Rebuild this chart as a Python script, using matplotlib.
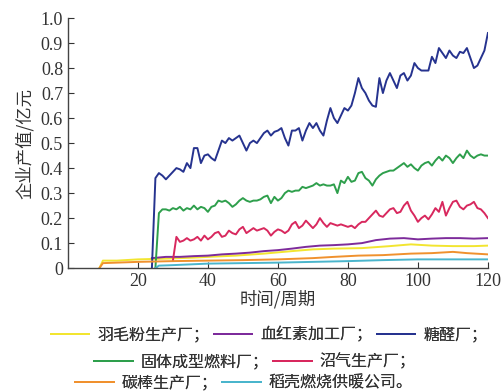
import matplotlib
matplotlib.use("Agg")
import matplotlib.pyplot as plt

plt.rcParams["font.family"] = ["Liberation Serif", "Noto Sans CJK SC", "DejaVu Sans"]

# MARK: Data (period, output value in 100M yuan)

yellow_t = [9, 10, 14, 20, 28, 36, 40, 48, 56, 64, 70, 76, 84, 92, 98, 104, 110, 116, 120]
yellow_v = [0.0, 0.03, 0.03, 0.035, 0.038, 0.042, 0.045, 0.05, 0.058, 0.068, 0.075,
            0.078, 0.08, 0.088, 0.095, 0.09, 0.088, 0.088, 0.09]

purple_t = [24, 28, 32, 36, 40, 44, 48, 52, 56, 60, 64, 68, 72, 76, 80, 84, 88, 92,
            96, 100, 104, 108, 112, 116, 120]
purple_v = [0.04, 0.045, 0.045, 0.048, 0.05, 0.055, 0.058, 0.062, 0.068, 0.072, 0.078,
            0.085, 0.09, 0.092, 0.095, 0.10, 0.112, 0.118, 0.12, 0.115, 0.118, 0.12,
            0.12, 0.118, 0.12]

blue_t = list(range(24, 121))
blue_v = [0.0, 0.36, 0.38, 0.37, 0.355, 0.37, 0.385, 0.40, 0.395, 0.385, 0.42, 0.40,
          0.48, 0.48, 0.42, 0.45, 0.455, 0.44, 0.43, 0.47, 0.51, 0.50, 0.52, 0.51,
          0.52, 0.53, 0.50, 0.47, 0.50, 0.51, 0.50, 0.52, 0.54, 0.55, 0.53, 0.545,
          0.55, 0.56, 0.52, 0.49, 0.55, 0.55, 0.56, 0.51, 0.55, 0.58, 0.56, 0.58,
          0.55, 0.53, 0.59, 0.64, 0.60, 0.58, 0.61, 0.64, 0.63, 0.65, 0.70, 0.76,
          0.72, 0.70, 0.67, 0.65, 0.645, 0.76, 0.70, 0.75, 0.78, 0.75, 0.72, 0.77,
          0.78, 0.75, 0.77, 0.82, 0.80, 0.79, 0.79, 0.79, 0.845, 0.82, 0.88, 0.86,
          0.84, 0.87, 0.85, 0.84, 0.865, 0.86, 0.88, 0.84, 0.80, 0.81, 0.84, 0.87,
          0.94]

green_t = list(range(25, 121))
green_v = [0.0, 0.22, 0.235, 0.235, 0.23, 0.24, 0.235, 0.245, 0.23, 0.24, 0.235, 0.25,
           0.235, 0.245, 0.24, 0.225, 0.245, 0.25, 0.27, 0.265, 0.27, 0.26, 0.245,
           0.255, 0.27, 0.28, 0.27, 0.265, 0.27, 0.27, 0.275, 0.285, 0.29, 0.26,
           0.285, 0.27, 0.28, 0.30, 0.31, 0.305, 0.31, 0.31, 0.325, 0.32, 0.325, 0.33,
           0.34, 0.33, 0.335, 0.33, 0.33, 0.335, 0.30, 0.35, 0.34, 0.365, 0.345,
           0.35, 0.38, 0.385, 0.36, 0.35, 0.33, 0.355, 0.37, 0.38, 0.385, 0.39, 0.39,
           0.40, 0.41, 0.42, 0.405, 0.415, 0.40, 0.39, 0.41, 0.42, 0.425, 0.41, 0.43,
           0.445, 0.43, 0.45, 0.44, 0.42, 0.44, 0.455, 0.44, 0.47, 0.45, 0.44, 0.45,
           0.455, 0.45, 0.45]

red_t = list(range(30, 121))
red_v = [0.03, 0.125, 0.105, 0.11, 0.12, 0.11, 0.115, 0.125, 0.11, 0.13, 0.115, 0.125,
         0.14, 0.145, 0.125, 0.13, 0.15, 0.14, 0.135, 0.155, 0.165, 0.14, 0.15, 0.16,
         0.15, 0.155, 0.16, 0.15, 0.13, 0.145, 0.155, 0.15, 0.14, 0.15, 0.175, 0.185,
         0.16, 0.17, 0.19, 0.175, 0.16, 0.175, 0.20, 0.18, 0.165, 0.18, 0.175, 0.17,
         0.175, 0.17, 0.165, 0.17, 0.16, 0.175, 0.185, 0.185, 0.20, 0.215, 0.23,
         0.21, 0.205, 0.22, 0.235, 0.24, 0.22, 0.225, 0.25, 0.265, 0.23, 0.21, 0.185,
         0.20, 0.21, 0.195, 0.215, 0.24, 0.225, 0.265, 0.21, 0.24, 0.265, 0.27,
         0.245, 0.235, 0.25, 0.255, 0.265, 0.24, 0.235, 0.22, 0.20]

orange_t = [9, 10, 20, 30, 40, 50, 60, 70, 76, 83, 90, 98, 104, 110, 114, 120]
orange_v = [0.0, 0.02, 0.025, 0.028, 0.03, 0.032, 0.035, 0.04, 0.045, 0.05, 0.052,
            0.058, 0.06, 0.065, 0.06, 0.055]

teal_t = [25, 26, 30, 40, 50, 60, 70, 80, 90, 100, 110, 120]
teal_v = [0.0, 0.01, 0.012, 0.018, 0.02, 0.022, 0.025, 0.028, 0.032, 0.035, 0.035, 0.035]

labels = ["羽毛粉生产厂；", "血红素加工厂；", "糖醛厂；", "固体成型燃料厂；",
          "沼气生产厂；", "碳棒生产厂；", "稻壳燃烧供暖公司。"]
colors = ["#f2e530", "#7d2b9b", "#26338f", "#2e9f4c", "#d8285e", "#f0912e", "#4ab5cc"]

# MARK: Chart

fig = plt.figure(figsize=(5.03, 3.92), dpi=100)
ax = fig.add_axes([0.135, 0.316, 0.835, 0.638])

series = [
    (yellow_t, yellow_v),
    (purple_t, purple_v),
    (blue_t, blue_v),
    (green_t, green_v),
    (red_t, red_v),
    (orange_t, orange_v),
    (teal_t, teal_v),
]
handles = []
for (t, v), c, lab in zip(series, colors, labels):
    (h,) = ax.plot(t, v, color=c, lw=1.4, label=lab)
    handles.append(h)

ax.set_xlim(0, 120)
ax.set_ylim(0, 1.0)
ax.set_xticks([20, 40, 60, 80, 100, 120])
ax.set_yticks([i / 10 for i in range(11)])
ax.set_yticklabels(["0"] + [f"{i / 10:.1f}" for i in range(1, 11)])
ax.tick_params(direction="in", length=4, width=0.8, labelsize=13, colors="#333333")
for s in ("top", "right"):
    ax.spines[s].set_visible(False)
for s in ("left", "bottom"):
    ax.spines[s].set_color("#444444")
    ax.spines[s].set_linewidth(1.0)

ax.set_xlabel("时间/周期", fontsize=12.5, family=["Noto Sans CJK SC"], labelpad=0, color="#333333")
ax.set_ylabel("企业产值/亿元", fontsize=12.5, family=["Noto Sans CJK SC"], labelpad=5, color="#333333")

# legend in three rows
rows = [([0, 1, 2], 0.535, 0.145), ([3, 4], 0.507, 0.077), ([5, 6], 0.485, 0.022)]
for idx, cx, cy in rows:
    leg = fig.legend(
        [handles[i] for i in idx],
        [labels[i] for i in idx],
        loc="center",
        bbox_to_anchor=(cx, cy),
        ncol=len(idx),
        frameon=False,
        handlelength=2.4,
        handletextpad=0.5,
        columnspacing=0.3,
        borderpad=0,
        prop={"family": ["Noto Sans CJK SC"], "size": 11.5},
    )
    for txt in leg.get_texts():
        txt.set_color("#333333")
    fig.add_artist(leg)

fig.savefig("out.png", dpi=100)
